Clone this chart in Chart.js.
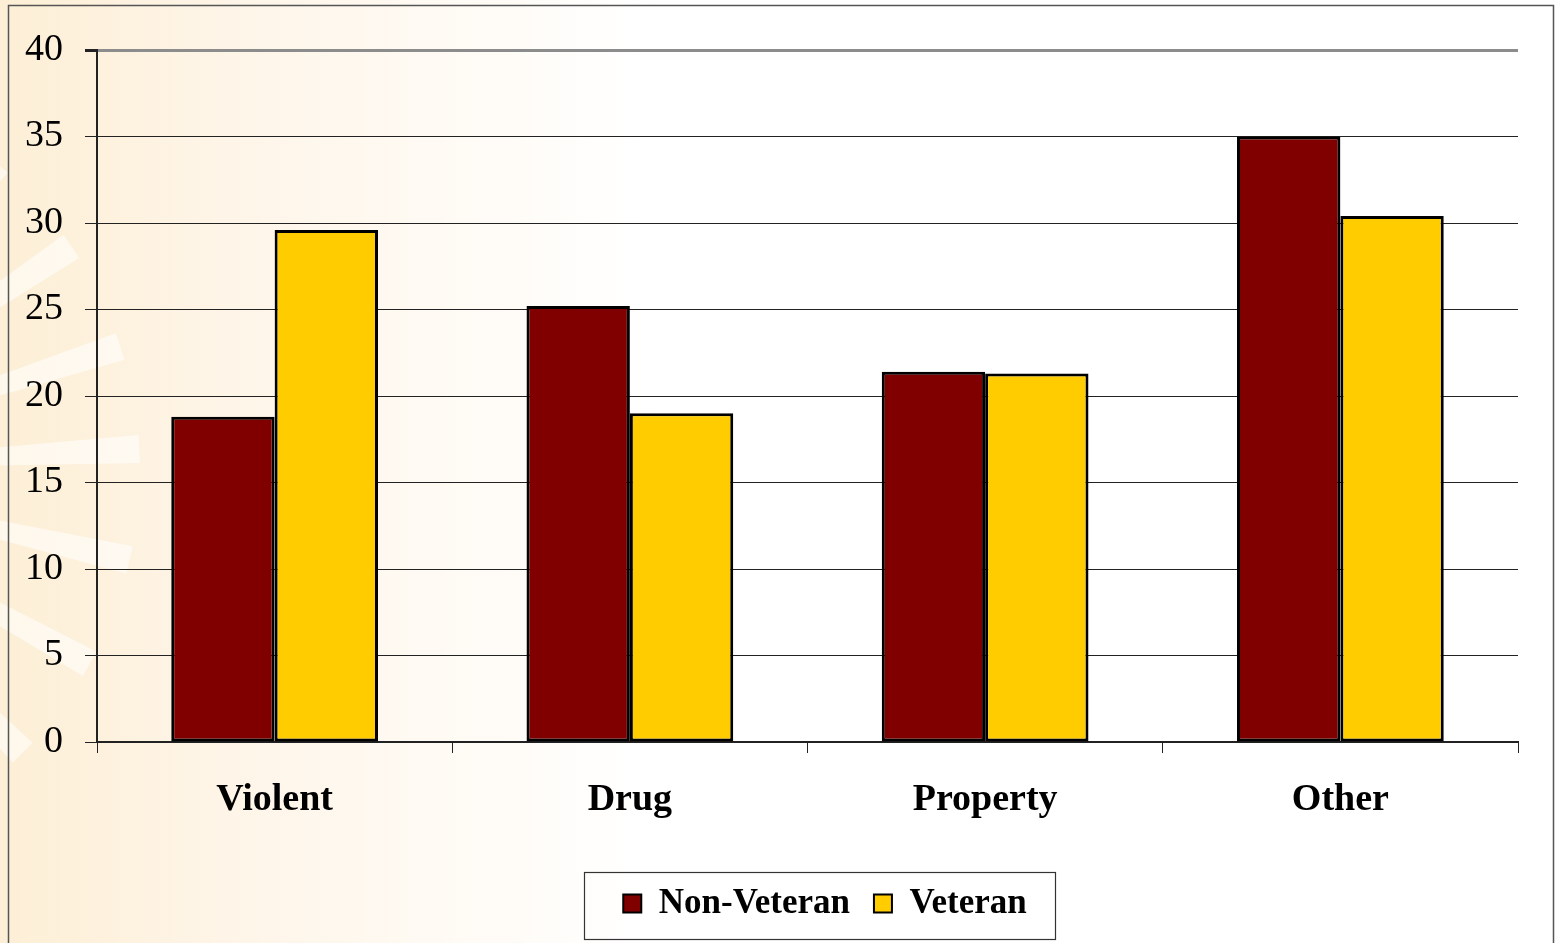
<!DOCTYPE html>
<html>
<head>
<meta charset="utf-8">
<script src="https://cdn.jsdelivr.net/npm/chart.js@4.4.1/dist/chart.umd.min.js"></script>
<style>
  html, body { margin: 0; padding: 0; background: #fff; }
  canvas { display: block; }
</style>
</head>
<body>
<canvas id="c" width="1556" height="943"></canvas>
<script>
const categories = ["Violent", "Drug", "Property", "Other"];
const seriesNames = ["Non-Veteran", "Veteran"];
const nonVeteran = [18.8, 25.2, 21.4, 35.0];
const veteran = [29.6, 19.0, 21.3, 30.4];
const yTicks = [0, 5, 10, 15, 20, 25, 30, 35, 40];

const SERIF = '"Liberation Serif", "Times New Roman", serif';

const bgPlugin = {
  id: 'bg',
  beforeDraw(chart) {
    const ctx = chart.ctx;
    const W = chart.width, H = chart.height;
    ctx.save();
    ctx.fillStyle = '#ffffff';
    ctx.fillRect(0, 0, W, H);
    const g = ctx.createLinearGradient(0, 0, 650, 0);
    g.addColorStop(0, 'rgba(253,239,214,1)');
    g.addColorStop(0.35, 'rgba(254,245,232,1)');
    g.addColorStop(1, 'rgba(255,255,255,1)');
    ctx.fillStyle = g;
    ctx.fillRect(0, 0, W, H);
    // faint rays
    const ox = -260, oy = 470;
    const angles = [-50, -34, -18, -3, 13, 29, 45, 60];
    ctx.fillStyle = 'rgba(255,255,255,0.55)';
    angles.forEach(a => {
      const r = a * Math.PI / 180;
      const len = 400;
      const half = 0.035;
      ctx.beginPath();
      ctx.moveTo(ox, oy);
      ctx.lineTo(ox + Math.cos(r - half) * len, oy + Math.sin(r - half) * len);
      ctx.lineTo(ox + Math.cos(r + half) * len, oy + Math.sin(r + half) * len);
      ctx.closePath();
      ctx.fill();
    });
    // outer frame
    ctx.strokeStyle = '#555';
    ctx.lineWidth = 1.5;
    ctx.beginPath();
    ctx.moveTo(8.5, H + 2);
    ctx.lineTo(8.5, 5.5);
    ctx.lineTo(1553.5, 5.5);
    ctx.lineTo(1553.5, H + 2);
    ctx.stroke();
    ctx.restore();
  },
  afterLayout(chart) {
    const lg = chart.legend;
    if (lg) { lg.left += 66; lg.right += 66; }
  },
  afterDraw(chart) {
    const lg = chart.legend;
    if (!lg || !lg.legendHitBoxes || !lg.legendHitBoxes.length) return;
    const hb = lg.legendHitBoxes;
    const first = hb[0], last = hb[hb.length - 1];
    const cy = first.top + first.height / 2;
    const ctx = chart.ctx;
    ctx.save();
    ctx.strokeStyle = '#333';
    ctx.lineWidth = 1.2;
    ctx.strokeRect(Math.round(first.left - 39) + 0.5, Math.round(cy - 32) + 0.5,
      Math.round(last.left + last.width + 29 - (first.left - 39)), 67);
    ctx.restore();
  }
};

new Chart(document.getElementById('c'), {
  type: 'bar',
  data: {
    labels: categories,
    datasets: [
      { label: seriesNames[0], data: nonVeteran, backgroundColor: '#800000', borderColor: '#000', borderWidth: 3, borderSkipped: false },
      { label: seriesNames[1], data: veteran, backgroundColor: '#FFCC00', borderColor: '#000', borderWidth: 3, borderSkipped: false }
    ]
  },
  options: {
    responsive: false,
    devicePixelRatio: 1,
    animation: false,
    layout: { padding: { left: 0, top: 50, right: 38, bottom: 12 } },
    datasets: { bar: { categoryPercentage: 0.582, barPercentage: 1.0 } },
    plugins: {
      tooltip: { enabled: false },
      legend: {
        position: 'bottom',
        labels: {
          font: { family: SERIF, size: 35, weight: 'bold' },
          color: '#000',
          boxWidth: 18,
          boxHeight: 18,
          padding: 24,
          generateLabels(chart) {
            return chart.data.datasets.map((ds, i) => ({
              text: ds.label,
              fillStyle: ds.backgroundColor,
              strokeStyle: '#000',
              lineWidth: 2,
              fontColor: '#000',
              hidden: false,
              datasetIndex: i
            }));
          }
        }
      }
    },
    scales: {
      x: {
        offset: true,
        grid: {
          offset: true,
          drawOnChartArea: true,
          drawTicks: true,
          tickLength: 11,
          color: c => c.index === categories.length ? '#8c8c8c' : 'rgba(0,0,0,0)',
          tickColor: c => c.index === categories.length ? '#8c8c8c' : '#222',
          lineWidth: c => c.index === categories.length ? 3 : 1
        },
        border: { display: true, color: '#222', width: 2 },
        ticks: { font: { family: SERIF, size: 38, weight: 'bold' }, color: '#000', padding: 24 },
        afterFit(scale) { scale.height = 120; }
      },
      y: {
        min: 0,
        max: 40,
        afterBuildTicks(scale) { scale.ticks = yTicks.map(v => ({ value: v })); },
        ticks: { font: { family: SERIF, size: 38 }, color: '#000', padding: 22 },
        grid: {
          drawTicks: true,
          tickLength: 12,
          color: c => (c.tick && c.tick.value === 40) ? '#8c8c8c' : '#222',
          tickColor: '#222',
          lineWidth: c => (c.tick && c.tick.value === 40) ? 3 : 1
        },
        border: { display: true, color: '#222', width: 2 },
        afterFit(scale) { scale.width = 97; }
      }
    }
  },
  plugins: [bgPlugin]
});
</script>
</body>
</html>
